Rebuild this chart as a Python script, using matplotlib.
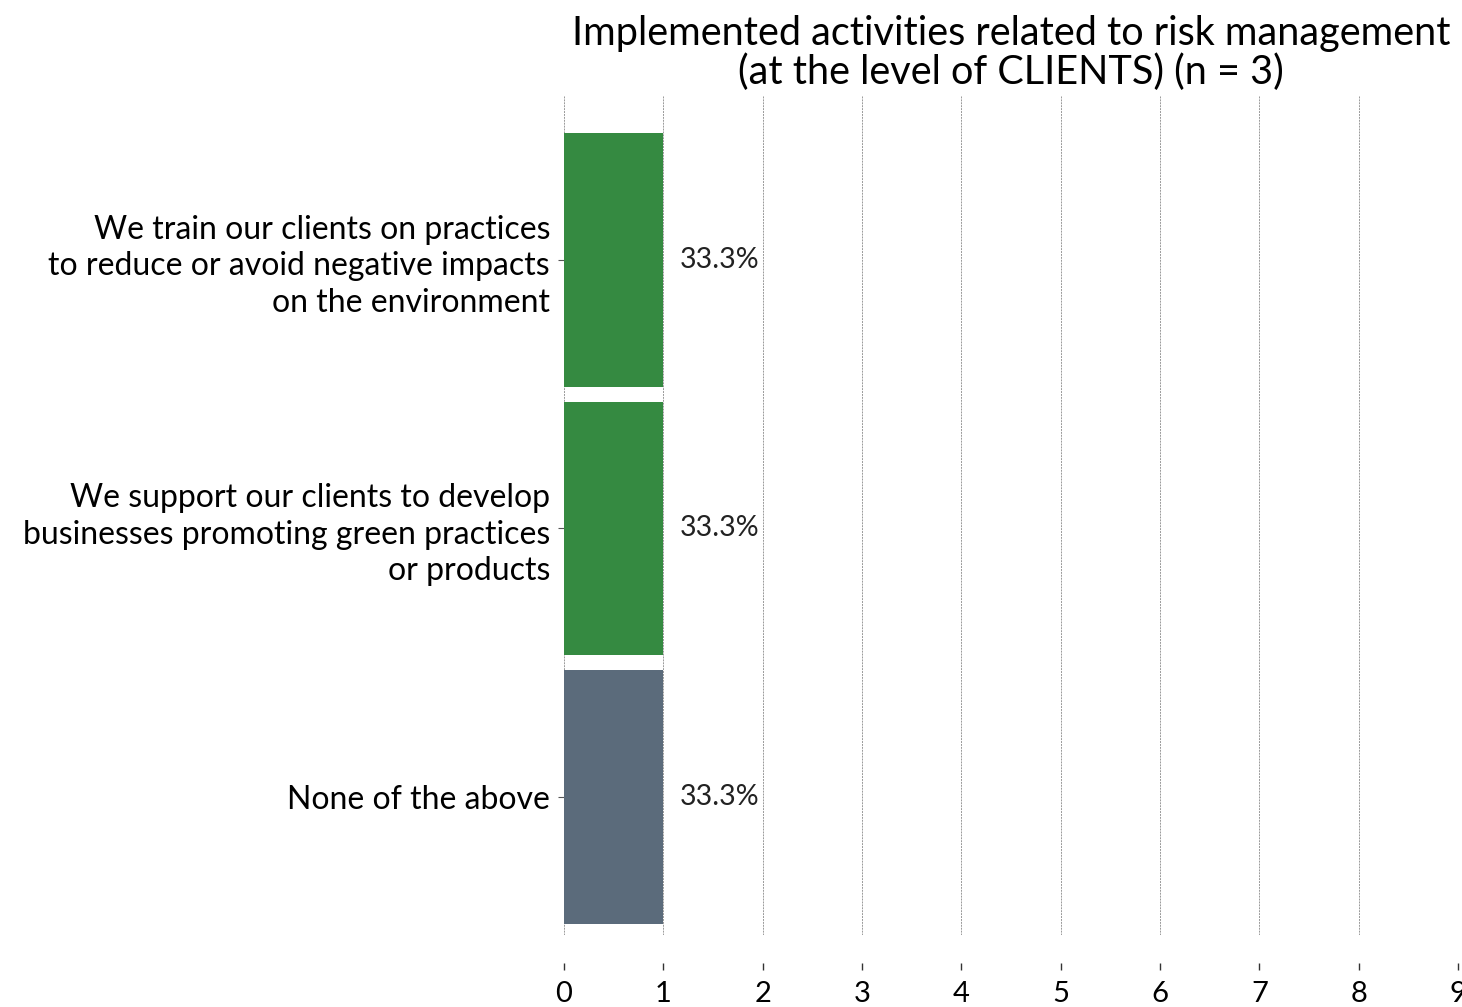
import matplotlib.pyplot as plt

plt.rcParams['font.family'] = ['Lato', 'DejaVu Sans']

categories = [
    "We train our clients on practices\nto reduce or avoid negative impacts\non the environment",
    "We support our clients to develop\nbusinesses promoting green practices\nor products",
    "None of the above",
]
counts = [1, 1, 1]
shares = [33.3, 33.3, 33.3]
colors = ["#358a41", "#358a41", "#5b6b7b"]
x_ticks = list(range(10))

fig = plt.figure(figsize=(14.62, 10.07), dpi=100)
ax = fig.add_axes([564 / 1462, 1 - 935 / 1007, (1458 - 564) / 1462, (935 - 95) / 1007])

# spine offset first: moving it resets the tick labels
for side in ["top", "right", "left", "bottom"]:
    ax.spines[side].set_visible(False)
ax.spines["bottom"].set_position(("outward", 20))

ypos = list(range(len(categories)))
ax.barh(ypos, counts, height=0.945, color=colors, zorder=2)
for y, c, s in zip(ypos, counts, shares):
    ax.text(c + 0.17, y, "%.1f%%" % s, va="center", ha="left", fontsize=20.5, color="#222222")

ax.set_xlim(0, 9)
ax.set_ylim(2.515, -0.615)
ax.set_yticks(ypos)
ax.set_yticklabels(categories, fontsize=23, linespacing=1.28)
ax.set_xticks(x_ticks)
ax.set_xticklabels([str(t) for t in x_ticks], fontsize=21)

ax.grid(axis="x", color="#999999", linestyle=(0, (2, 1)), linewidth=0.7, zorder=0)
ax.tick_params(axis="x", length=5, width=1, color="#333333", pad=8)
ax.tick_params(axis="y", length=4, width=0.8, color="#555555", pad=6)

ax.set_title("Implemented activities related to risk management\n(at the level of CLIENTS) (n = 3)",
             fontsize=28.5, pad=8, linespacing=1.05)

fig.savefig("out.png", dpi=100)
